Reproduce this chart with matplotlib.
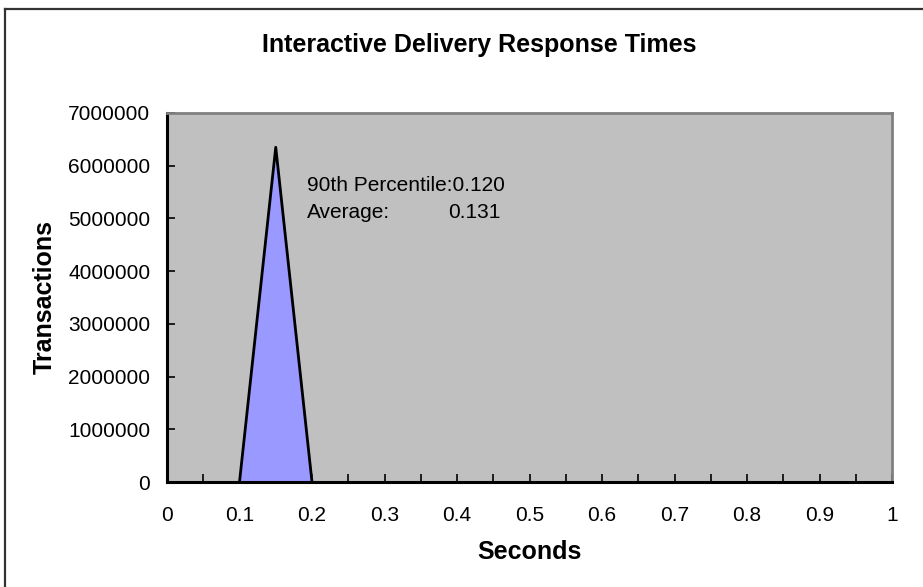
import matplotlib
matplotlib.use("Agg")
import matplotlib.pyplot as plt
from matplotlib.lines import Line2D
from matplotlib.ticker import MultipleLocator

# response time histogram (seconds vs transactions)
seconds = [0.1, 0.15, 0.2]
transactions = [0, 6350000, 0]

percentile_90 = "0.120"
average = "0.131"

narrow = ["Liberation Sans Narrow", "Liberation Sans", "DejaVu Sans"]
plt.rcParams["font.family"] = ["Liberation Sans", "DejaVu Sans"]

fig = plt.figure(figsize=(9.23, 5.87), dpi=100)
ax = fig.add_axes([167 / 923, 1 - 482 / 587, (892 - 167) / 923, (482 - 113) / 587])
ax.set_facecolor("#C0C0C0")

ax.fill_between(seconds, transactions, color="#9999FF", zorder=2)
ax.plot(seconds, transactions, color="black", lw=2, zorder=3)

ax.set_xlim(0, 1)
ax.set_ylim(0, 7000000)
ax.xaxis.set_major_locator(MultipleLocator(0.1))
ax.xaxis.set_minor_locator(MultipleLocator(0.05))
ax.yaxis.set_major_locator(MultipleLocator(1000000))
ax.xaxis.set_major_formatter(plt.FuncFormatter(lambda v, p: "%g" % round(v, 2)))
ax.yaxis.set_major_formatter(plt.FuncFormatter(lambda v, p: "%d" % v))

ax.tick_params(axis="x", which="both", direction="in", length=6, width=1.2, pad=17, labelsize=15)
ax.tick_params(axis="y", which="both", direction="in", length=6, width=1.2, pad=12, labelsize=15)

for s in ["left", "bottom"]:
    ax.spines[s].set_color("black")
    ax.spines[s].set_linewidth(2.2)
for s in ["top", "right"]:
    ax.spines[s].set_color("#808080")
    ax.spines[s].set_linewidth(2)

ax.text(0.193, 5630000, "90th Percentile:" + percentile_90, fontsize=15, va="center")
ax.text(0.193, 5120000, "Average:", fontsize=15, va="center")
ax.text(0.388, 5120000, average, fontsize=15, va="center")

fig.text(479 / 923, 1 - 45 / 587, "Interactive Delivery Response Times",
         family=narrow, fontweight="bold", fontsize=18, ha="center", va="center")
ax.set_xlabel("Seconds", family=narrow, fontweight="bold", fontsize=18, labelpad=11)
ax.set_ylabel("Transactions", family=narrow, fontweight="bold", fontsize=18, labelpad=8)

# chart area frame (only top and left edges are inside the picture)
fig.add_artist(Line2D([5 / 923, 1], [1 - 9 / 587, 1 - 9 / 587], color="#333333", lw=1.6))
fig.add_artist(Line2D([5 / 923, 5 / 923], [0, 1 - 9 / 587], color="#333333", lw=1.6))

fig.savefig("out.png", dpi=100)
